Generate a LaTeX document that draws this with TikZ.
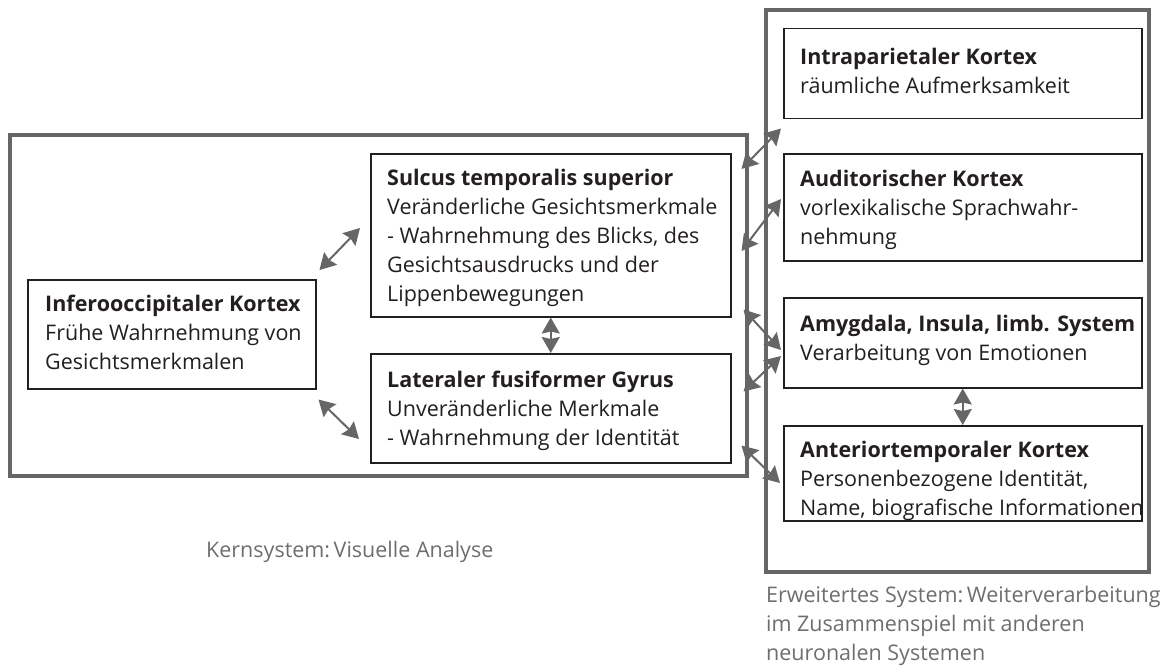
\documentclass[tikz,border=0pt]{standalone}
\usepackage{fontspec}
\setmainfont{Open Sans}
\usetikzlibrary{arrows.meta,calc}
\definecolor{frame}{HTML}{666666}
\definecolor{ink}{HTML}{231F20}
\definecolor{cap}{HTML}{6D6E70}
\tikzset{
 outer/.style={draw=frame, line width=4pt},
 box/.style={draw=ink, line width=1.5pt, inner sep=0pt, anchor=north west},
 txt/.style={anchor=west, align=left, inner sep=0pt, text=ink, font=\fontsize{21.5}{29}\selectfont},
 captxt/.style={anchor=base west, align=left, inner sep=0pt, text=cap, font=\fontsize{21.5}{29}\selectfont},
 arr/.style={draw=frame, line width=2pt, {Stealth[length=16pt,width=18pt,inset=2pt]}-{Stealth[length=16pt,width=18pt,inset=2pt]}},
}
\begin{document}
\begin{tikzpicture}[x=1pt,y=-1pt]
\useasboundingbox (0,0) rectangle (1164,666);
% outer frames
\draw[outer] (10,135) rectangle (747,476);
\draw[outer] (766,10) rectangle (1149,572);
% boxes
\node[box, minimum width=288pt, minimum height=109pt] (io) at (27,279) {};
\node[box, minimum width=360pt, minimum height=163pt] (sts) at (370,153) {};
\node[box, minimum width=360pt, minimum height=109pt] (lfg) at (370,353) {};
\node[box, minimum width=358pt, minimum height=90pt] (ip) at (783,28) {};
\node[box, minimum width=358pt, minimum height=107pt] (aud) at (783,153) {};
\node[box, minimum width=358pt, minimum height=90pt] (amy) at (783,297) {};
\node[box, minimum width=358pt, minimum height=95pt] (ant) at (783,425) {};
% texts
\node[txt] (iot) at ([shift={(18,-2)}]io.west) {\textbf{Inferooccipitaler Kortex}\\Frühe Wahrnehmung von\\Gesichtsmerkmalen};
\node[txt] (stst) at ([shift={(17,3)}]sts.west) {\textbf{Sulcus temporalis superior}\\Veränderliche Gesichtsmerkmale\\- Wahrnehmung des Blicks, des\\Gesichtsausdrucks und der\\Lippenbewegungen};
\node[txt] (lfgt) at ([shift={(17,3)}]lfg.west) {\textbf{Lateraler fusiformer Gyrus}\\Unveränderliche Merkmale\\- Wahrnehmung der Identität};
\node[txt] (ipt) at ([shift={(17,-3)}]ip.west) {\textbf{Intraparietaler Kortex}\\räumliche Aufmerksamkeit};
\node[txt] (audt) at ([shift={(17,3)}]aud.west) {\textbf{Auditorischer Kortex}\\vorlexikalische Sprachwahr-\\nehmung};
\node[txt] (amyt) at ([shift={(17,-2)}]amy.west) {\textbf{Amygdala, Insula, limb. System}\\Verarbeitung von Emotionen};
\node[txt] (antt) at ([shift={(17,8)}]ant.west) {\textbf{Anteriortemporaler Kortex}\\Personenbezogene Identität,\\Name, biografische Informationen};
% captions
\node[captxt] (kern) at (206,557) {Kernsystem:\,Visuelle Analyse};
\node[captxt] (erw) at (766,660) {Erweitertes System:\,Weiterverarbeitung\\im Zusammenspiel mit anderen\\neuronalen Systemen};
% arrows
\draw[arr] ([shift={(3,-9)}]io.north east) -- ([shift={(-10,75)}]sts.north west);
\draw[arr] ([shift={(2,10)}]io.south east) -- ([shift={(-11,86)}]lfg.north west);
\draw[arr] (sts.south) -- (lfg.north);
\draw[arr] ([shift={(10,16)}]sts.north east) -- ([shift={(-2,9)}]ip.south west);
\draw[arr] ([shift={(10,98)}]sts.north east) -- ([shift={(-2,46)}]aud.north west);
\draw[arr] ([shift={(12,-8)}]sts.south east) -- ([shift={(-2,53)}]amy.north west);
\draw[arr] ([shift={(12,-72)}]lfg.south east) -- ([shift={(-2,59)}]amy.north west);
\draw[arr] ([shift={(10,-18)}]lfg.south east) -- ([shift={(-3,58)}]ant.north west);
\draw[arr] (amy.south) -- (ant.north);
\end{tikzpicture}
\end{document}
